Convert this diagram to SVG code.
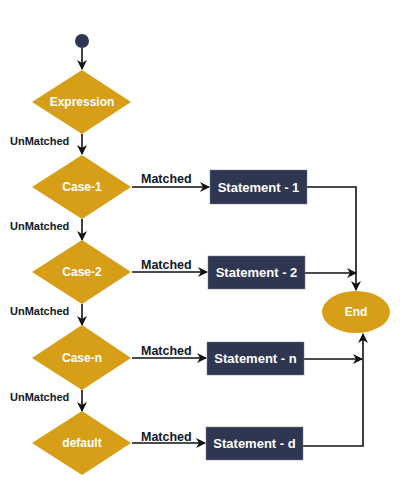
<svg xmlns="http://www.w3.org/2000/svg" width="400" height="500" viewBox="0 0 400 500">
<defs>
<marker id="ah" markerWidth="10" markerHeight="10" refX="9" refY="5" orient="auto" markerUnits="userSpaceOnUse">
<path d="M0,0 L10,5 L0,10 L3,5 Z" fill="#111"/>
</marker>
<style>
.dia{fill:#D69F17}
.box{fill:#2E3652;stroke:#7a8090;stroke-width:0.5}
.wt{fill:#fff;font-family:"Liberation Sans",Arial,sans-serif;font-size:12px;font-weight:bold;text-anchor:middle;dominant-baseline:central}
.st{font-size:13px}
.lb{fill:#111827;font-family:"Liberation Sans",Arial,sans-serif;font-size:11px;font-weight:bold}
.mt{font-size:12.5px}
.ln{fill:none;stroke:#111;stroke-width:1.6}
</style>
</defs>
<rect width="400" height="500" fill="#fff"/>
<g id="connectors">
<path class="ln" d="M82,48 V69" marker-end="url(#ah)"/>
<path class="ln" d="M82,134 V154" marker-end="url(#ah)"/>
<path class="ln" d="M82,219 V240" marker-end="url(#ah)"/>
<path class="ln" d="M82,304 V325" marker-end="url(#ah)"/>
<path class="ln" d="M82,390 V411" marker-end="url(#ah)"/>
<path class="ln" d="M132,187 H209" marker-end="url(#ah)"/>
<path class="ln" d="M132,272 H207" marker-end="url(#ah)"/>
<path class="ln" d="M132,358 H206" marker-end="url(#ah)"/>
<path class="ln" d="M132,443 H205" marker-end="url(#ah)"/>
<path class="ln" d="M307,187 H356 V290" marker-end="url(#ah)"/>
<path class="ln" d="M305,273 H356" marker-end="url(#ah)"/>
<path class="ln" d="M304,359 H362" marker-end="url(#ah)"/>
<path class="ln" d="M303,446 H363 V334" marker-end="url(#ah)"/>
<text class="lb" x="10" y="145">UnMatched</text>
<text class="lb" x="10" y="230">UnMatched</text>
<text class="lb" x="10" y="315">UnMatched</text>
<text class="lb" x="10" y="401">UnMatched</text>
<text class="lb mt" x="141" y="183">Matched</text>
<text class="lb mt" x="141" y="269">Matched</text>
<text class="lb mt" x="141" y="355">Matched</text>
<text class="lb mt" x="141" y="441">Matched</text>
</g>
<g id="start"><circle cx="82" cy="41" r="7" fill="#2E3652"/></g>
<g id="expression"><polygon class="dia" points="82,70 131,102 82,134 32,102"/><text class="wt" x="82" y="102">Expression</text></g>
<g id="case1"><polygon class="dia" points="82,155 131,187 82,219 32,187"/><text class="wt" x="82" y="187">Case-1</text></g>
<g id="case2"><polygon class="dia" points="82,240 131,272 82,304 32,272"/><text class="wt" x="82" y="272">Case-2</text></g>
<g id="casen"><polygon class="dia" points="82,325 131,358 82,390 32,358"/><text class="wt" x="82" y="358">Case-n</text></g>
<g id="default"><polygon class="dia" points="82,411 131,443 82,475 32,443"/><text class="wt" x="82" y="443">default</text></g>
<g id="stmt1"><rect class="box" x="210" y="170" width="97" height="34"/><text class="wt st" x="258.5" y="187">Statement - 1</text></g>
<g id="stmt2"><rect class="box" x="208" y="256" width="97" height="33"/><text class="wt st" x="256.5" y="272.5">Statement - 2</text></g>
<g id="stmtn"><rect class="box" x="207" y="342" width="97" height="33"/><text class="wt st" x="255.5" y="358.5">Statement - n</text></g>
<g id="stmtd"><rect class="box" x="206" y="427" width="97" height="33"/><text class="wt st" x="254.5" y="443.5">Statement - d</text></g>
<g id="end"><ellipse cx="356" cy="312" rx="34" ry="21" fill="#D69F17"/><text class="wt" x="356" y="312">End</text></g>
</svg>
